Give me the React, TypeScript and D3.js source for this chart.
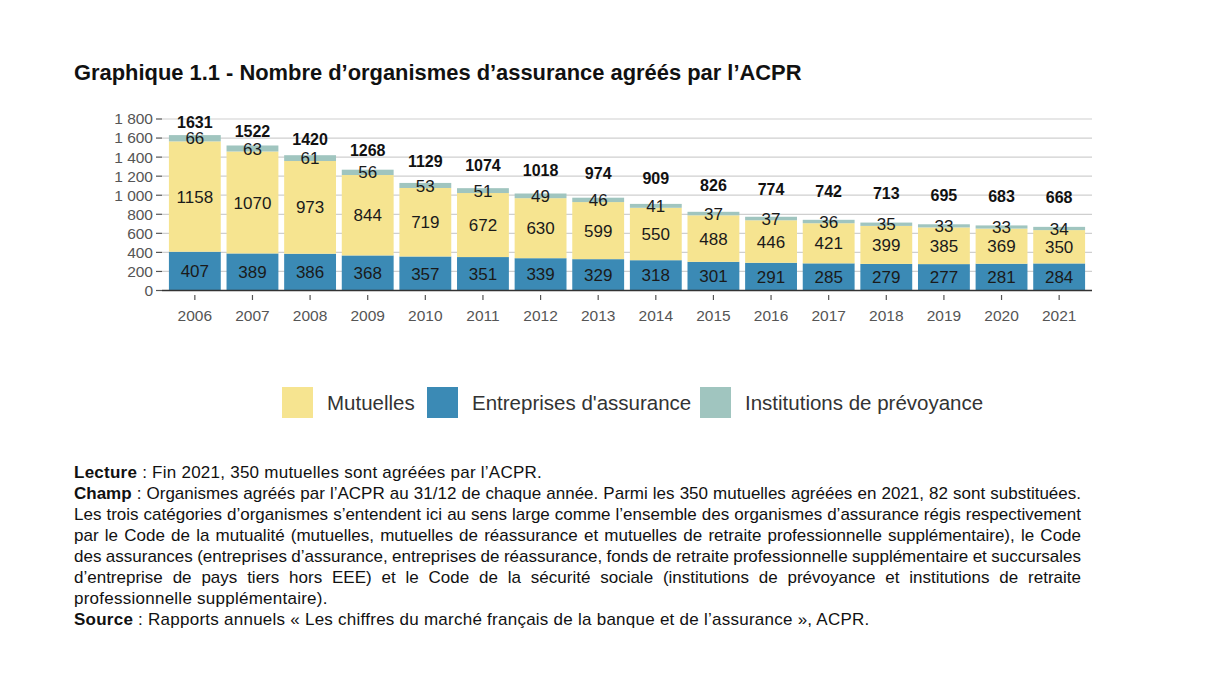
import * as d3 from "d3";
import { useEffect, useRef } from "react";

const years = ["2006", "2007", "2008", "2009", "2010", "2011", "2012", "2013", "2014", "2015", "2016", "2017", "2018", "2019", "2020", "2021"];
const entreprises = [407, 389, 386, 368, 357, 351, 339, 329, 318, 301, 291, 285, 279, 277, 281, 284];
const mutuelles = [1158, 1070, 973, 844, 719, 672, 630, 599, 550, 488, 446, 421, 399, 385, 369, 350];
const institutions = [66, 63, 61, 56, 53, 51, 49, 46, 41, 37, 37, 36, 35, 33, 33, 34];
const yTicks = [0, 200, 400, 600, 800, 1000, 1200, 1400, 1600, 1800];

const seriesNames = ["Mutuelles", "Entreprises d'assurance", "Institutions de prévoyance"];
const seriesColors = ["#F6E490", "#3B8AB5", "#A0C5BF"];

const title = "Graphique 1.1 - Nombre d’organismes d’assurance agréés par l’ACPR";
// [bold prefix, rest, justified]
const notes: [string, string, boolean][] = [
  ["Lecture", " : Fin 2021, 350 mutuelles sont agréées par l’ACPR.", false],
  ["Champ", " : Organismes agréés par l’ACPR au 31/12 de chaque année. Parmi les 350 mutuelles agréées en 2021, 82 sont substituées.", true],
  ["", "Les trois catégories d’organismes s’entendent ici au sens large comme l’ensemble des organismes d’assurance régis respectivement", true],
  ["", "par le Code de la mutualité (mutuelles, mutuelles de réassurance et mutuelles de retraite professionnelle supplémentaire), le Code", true],
  ["", "des assurances (entreprises d’assurance, entreprises de réassurance, fonds de retraite professionnelle supplémentaire et succursales", true],
  ["", "d’entreprise de pays tiers hors EEE) et le Code de la sécurité sociale (institutions de prévoyance et institutions de retraite", true],
  ["", "professionnelle supplémentaire).", false],
  ["Source", " : Rapports annuels « Les chiffres du marché français de la banque et de l’assurance », ACPR.", false],
];

const font = "'Liberation Sans', Arial, sans-serif";

const App = () => {
  const svgRef = useRef(null);

  useEffect(() => {
    const w = 1214;
    const h = 700;
    const svg = d3.select(svgRef.current).attr("width", w).attr("height", h);
    svg.selectAll("*").remove();
    svg.style("font-family", font);

    // title
    svg
      .append("text")
      .attr("x", 74)
      .attr("y", 80)
      .attr("font-size", "21.9px")
      .attr("font-weight", "bold")
      .attr("fill", "#111")
      .text(title);

    const left = 162;
    const right = 1092;
    const xScale = d3.scaleBand().domain(years).range([left, right]).paddingInner(0.1).paddingOuter(0.12);
    const yScale = d3.scaleLinear().domain([0, 1800]).range([290.5, 119]);

    // grid
    svg
      .append("g")
      .selectAll("line")
      .data(yTicks.slice(1))
      .enter()
      .append("line")
      .attr("x1", left)
      .attr("x2", right)
      .attr("y1", (d) => yScale(d))
      .attr("y2", (d) => yScale(d))
      .attr("stroke", "#cfcfcf")
      .attr("stroke-width", 1.2);

    // y axis
    const yAxis = svg.append("g");
    yTicks.forEach((t) => {
      yAxis
        .append("line")
        .attr("x1", left - 6)
        .attr("x2", left)
        .attr("y1", yScale(t))
        .attr("y2", yScale(t))
        .attr("stroke", "#555")
        .attr("stroke-width", 1.2);
      yAxis
        .append("text")
        .attr("x", left - 9)
        .attr("y", yScale(t))
        .attr("dy", "0.35em")
        .attr("text-anchor", "end")
        .attr("font-size", "15.5px")
        .attr("fill", "#555")
        .text(d3.format(",")(t).replace(",", " "));
    });

    // stacked bars
    const rows = years.map((y, i) => ({
      year: y,
      ent: entreprises[i],
      mut: mutuelles[i],
      inst: institutions[i],
      total: entreprises[i] + mutuelles[i] + institutions[i],
    }));
    const stack = d3.stack().keys(["ent", "mut", "inst"])(rows as any);
    const colorOf = { ent: seriesColors[1], mut: seriesColors[0], inst: seriesColors[2] } as any;

    stack.forEach((layer: any) => {
      const g = svg.append("g");
      g.selectAll("rect")
        .data(layer)
        .enter()
        .append("rect")
        .attr("x", (d: any) => xScale(d.data.year))
        .attr("width", xScale.bandwidth())
        .attr("y", (d: any) => yScale(d[1]))
        .attr("height", (d: any) => yScale(d[0]) - yScale(d[1]))
        .attr("fill", colorOf[layer.key]);
      g.selectAll("text")
        .data(layer)
        .enter()
        .append("text")
        .attr("x", (d: any) => xScale(d.data.year) + xScale.bandwidth() / 2)
        .attr("y", (d: any) => yScale((d[0] + d[1]) / 2))
        .attr("dy", "0.36em")
        .attr("text-anchor", "middle")
        .attr("font-size", "17px")
        .attr("fill", "#1a1a1a")
        .text((d: any) => d.data[layer.key]);
    });

    // totals
    svg
      .append("g")
      .selectAll("text")
      .data(rows)
      .enter()
      .append("text")
      .attr("x", (d) => xScale(d.year) + xScale.bandwidth() / 2)
      .attr("y", (d) => yScale(d.total * 0.81 + 440))
      .attr("dy", "0.36em")
      .attr("text-anchor", "middle")
      .attr("font-size", "16px")
      .attr("font-weight", "bold")
      .attr("fill", "#111")
      .text((d) => d.total);

    // x axis
    svg
      .append("line")
      .attr("x1", left)
      .attr("x2", right)
      .attr("y1", yScale(0))
      .attr("y2", yScale(0))
      .attr("stroke", "#333")
      .attr("stroke-width", 1.6);
    const xAxis = svg.append("g");
    years.forEach((y) => {
      const cx = xScale(y) + xScale.bandwidth() / 2;
      xAxis
        .append("line")
        .attr("x1", cx)
        .attr("x2", cx)
        .attr("y1", 295)
        .attr("y2", 300)
        .attr("stroke", "#555")
        .attr("stroke-width", 1.2);
      xAxis
        .append("text")
        .attr("x", cx)
        .attr("y", 315)
        .attr("dy", "0.36em")
        .attr("text-anchor", "middle")
        .attr("font-size", "15.5px")
        .attr("fill", "#555")
        .text(y);
    });

    // legend
    const legendX = [282, 427, 700];
    const legend = svg.append("g");
    seriesNames.forEach((name, i) => {
      legend
        .append("rect")
        .attr("x", legendX[i])
        .attr("y", 387)
        .attr("width", 31)
        .attr("height", 31)
        .attr("fill", seriesColors[i]);
      legend
        .append("text")
        .attr("x", legendX[i] + 45)
        .attr("y", 403)
        .attr("dy", "0.36em")
        .attr("font-size", "20.5px")
        .attr("fill", "#333")
        .text(name);
    });

    // notes (justified lines get word-spacing to reach the right edge)
    const notesG = svg.append("g");
    const noteRight = 1081;
    notes.forEach(([bold, rest, justify], i) => {
      const t = notesG
        .append("text")
        .attr("x", 74)
        .attr("y", 478 + i * 21)
        .attr("font-size", "17px")
        .attr("fill", "#111");
      if (bold) t.append("tspan").attr("font-weight", "bold").text(bold);
      t.append("tspan").text(rest);
      if (justify) {
        const node = t.node() as SVGTextElement;
        const natural = node.getComputedTextLength();
        const spaces = (bold + rest).split(" ").length - 1;
        const extra = (noteRight - 74 - natural) / spaces;
        t.attr("word-spacing", extra + "px");
      } else {
        t.attr("letter-spacing", "0.25px");
      }
    });
  }, []);

  return (
    <div>
      <svg ref={svgRef} style={{ position: "absolute", left: 0, top: 0 }}></svg>
    </div>
  );
};

export default App;
